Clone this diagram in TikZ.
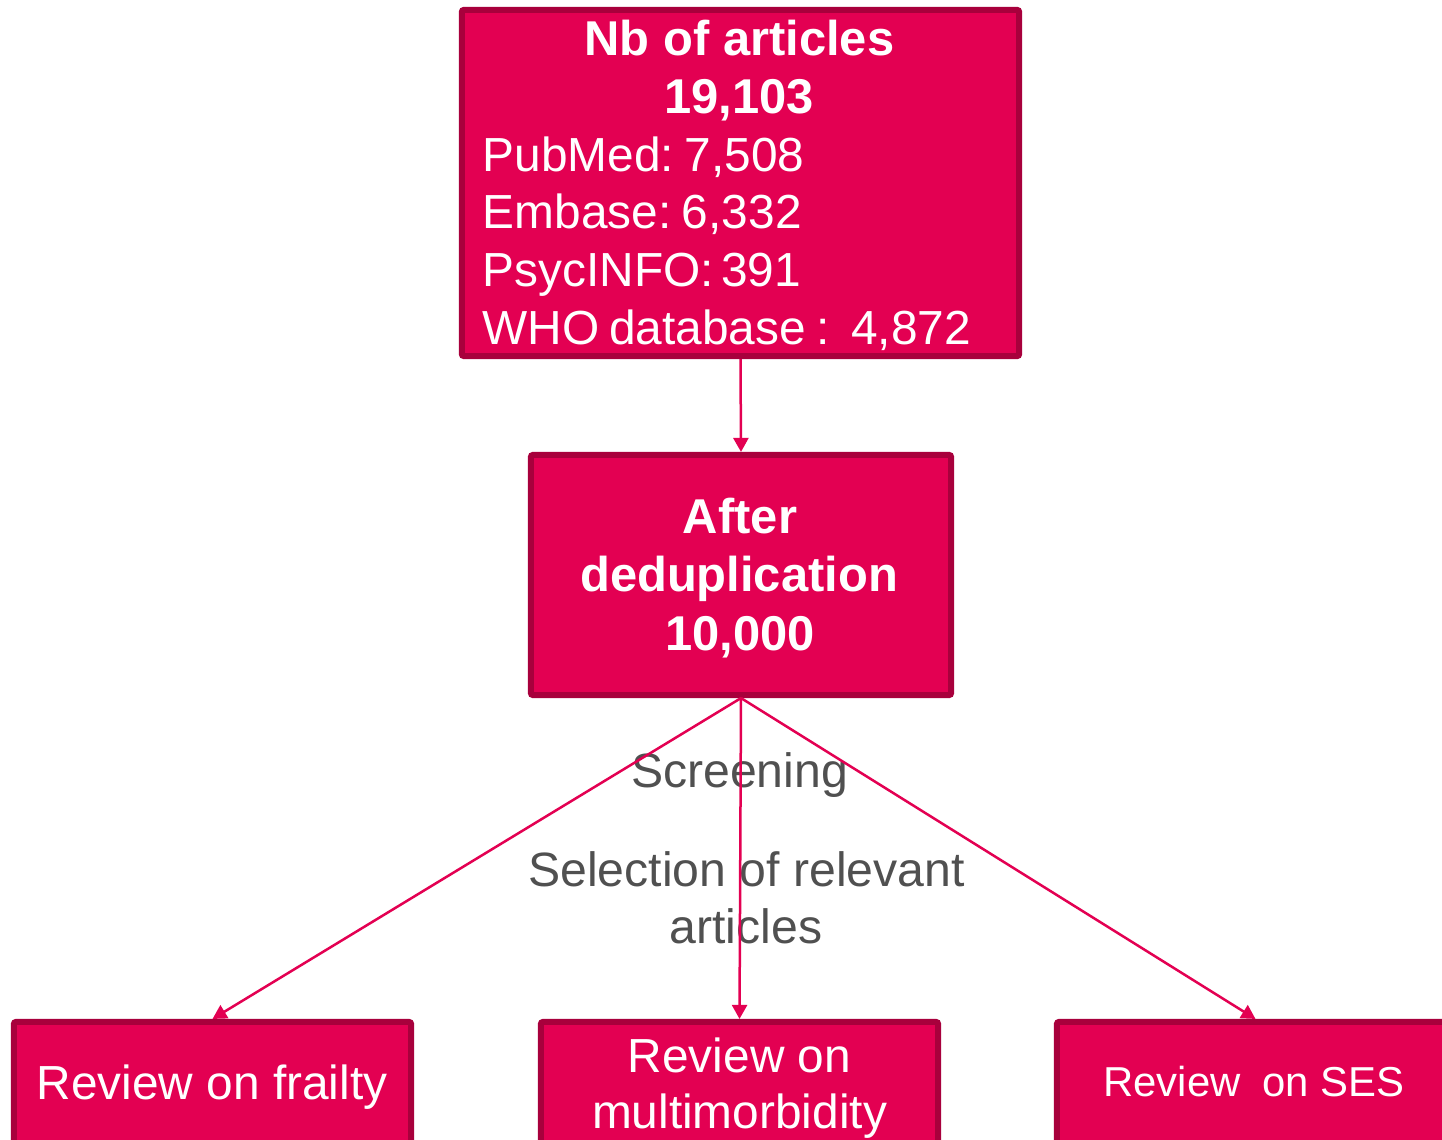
\documentclass[tikz,border=0pt]{standalone}
\usepackage{fontspec}
\setmainfont{Liberation Sans}
\usetikzlibrary{arrows.meta}
\definecolor{boxfill}{HTML}{E30052}
\definecolor{boxline}{HTML}{A8003C}
\definecolor{lbl}{HTML}{505050}
\tikzset{
  box/.style={draw=boxline, fill=boxfill, line width=0.06cm, rounded corners=0.6pt, inner sep=0},
  wtxt/.style={text=white, inner sep=0, font=\fontsize{13.6}{16}\selectfont},
  btxt/.style={wtxt, font=\fontsize{13.9}{16}\selectfont\bfseries},
  gtxt/.style={text=lbl, inner sep=0, font=\fontsize{13.7}{16}\selectfont},
  conn/.style={draw=boxfill, line width=0.025cm, -{Triangle[length=0.14cm,width=0.15cm]}},
}
\begin{document}
\begin{tikzpicture}[x=0.01cm,y=-0.01cm]
\useasboundingbox (0,0) rectangle (1442,1140);
\clip (0,0) rectangle (1442,1140);
% boxes
\node[box, minimum width=5.57cm, minimum height=3.46cm] (top) at (740.5,183) {};
\node[box, minimum width=4.20cm, minimum height=2.40cm] (mid) at (741,575) {};
\node[box, minimum width=3.97cm, minimum height=1.80cm] (frail) at (212.5,1112) {};
\node[box, minimum width=3.97cm, minimum height=1.80cm] (multi) at (739.5,1112) {};
\node[box, minimum width=3.97cm, minimum height=1.80cm] (ses) at (1255.5,1112) {};
% top box text
\node[btxt, anchor=base] (t1) at (739.5,56) {Nb of articles};
\node[btxt, anchor=base] (t2) at (739,114) {19,103};
\node[wtxt, anchor=base west] (t3) at (482,172) {PubMed:\hspace{0.22em}7,508};
\node[wtxt, anchor=base west] (t4) at (482,229) {Embase:\hspace{0.22em}6,332};
\node[wtxt, anchor=base west] (t5) at (482,287) {PsycINFO:\hspace{0.15em}391};
\node[wtxt, anchor=base west] (t6) at (482,345) {WHO\hspace{0.2em}database\hspace{0.22em}:\hspace{0.45em}4,872};
% middle box text
\node[btxt, anchor=base] (m1) at (740,534) {After};
\node[btxt, anchor=base] (m2) at (739,592) {deduplication};
\node[btxt, anchor=base] (m3) at (740,650) {10,000};
% bottom box text
\node[wtxt, anchor=base] (f1) at (212,1099) {Review on frailty};
\node[wtxt, anchor=base] (u1) at (739.5,1072) {Review on};
\node[wtxt, anchor=base] (u2) at (739.5,1128) {multimorbidity};
\node[wtxt, anchor=base, font=\fontsize{11.9}{14}\selectfont] (s1) at (1254,1096) {Review\hspace{0.25em} on SES};
% labels
\node[gtxt, anchor=base] (scr) at (739.5,787) {Screening};
\node[gtxt, anchor=base] (sel1) at (746.5,886) {Selection of relevant};
\node[gtxt, anchor=base] (sel2) at (746,943) {articles};
% connectors
\draw[conn] (top.south) -- (mid.north);
\draw[conn] (mid.south) -- (frail.north);
\draw[conn] (mid.south) -- (multi.north);
\draw[conn] (mid.south) -- (ses.north);
\end{tikzpicture}
\end{document}
